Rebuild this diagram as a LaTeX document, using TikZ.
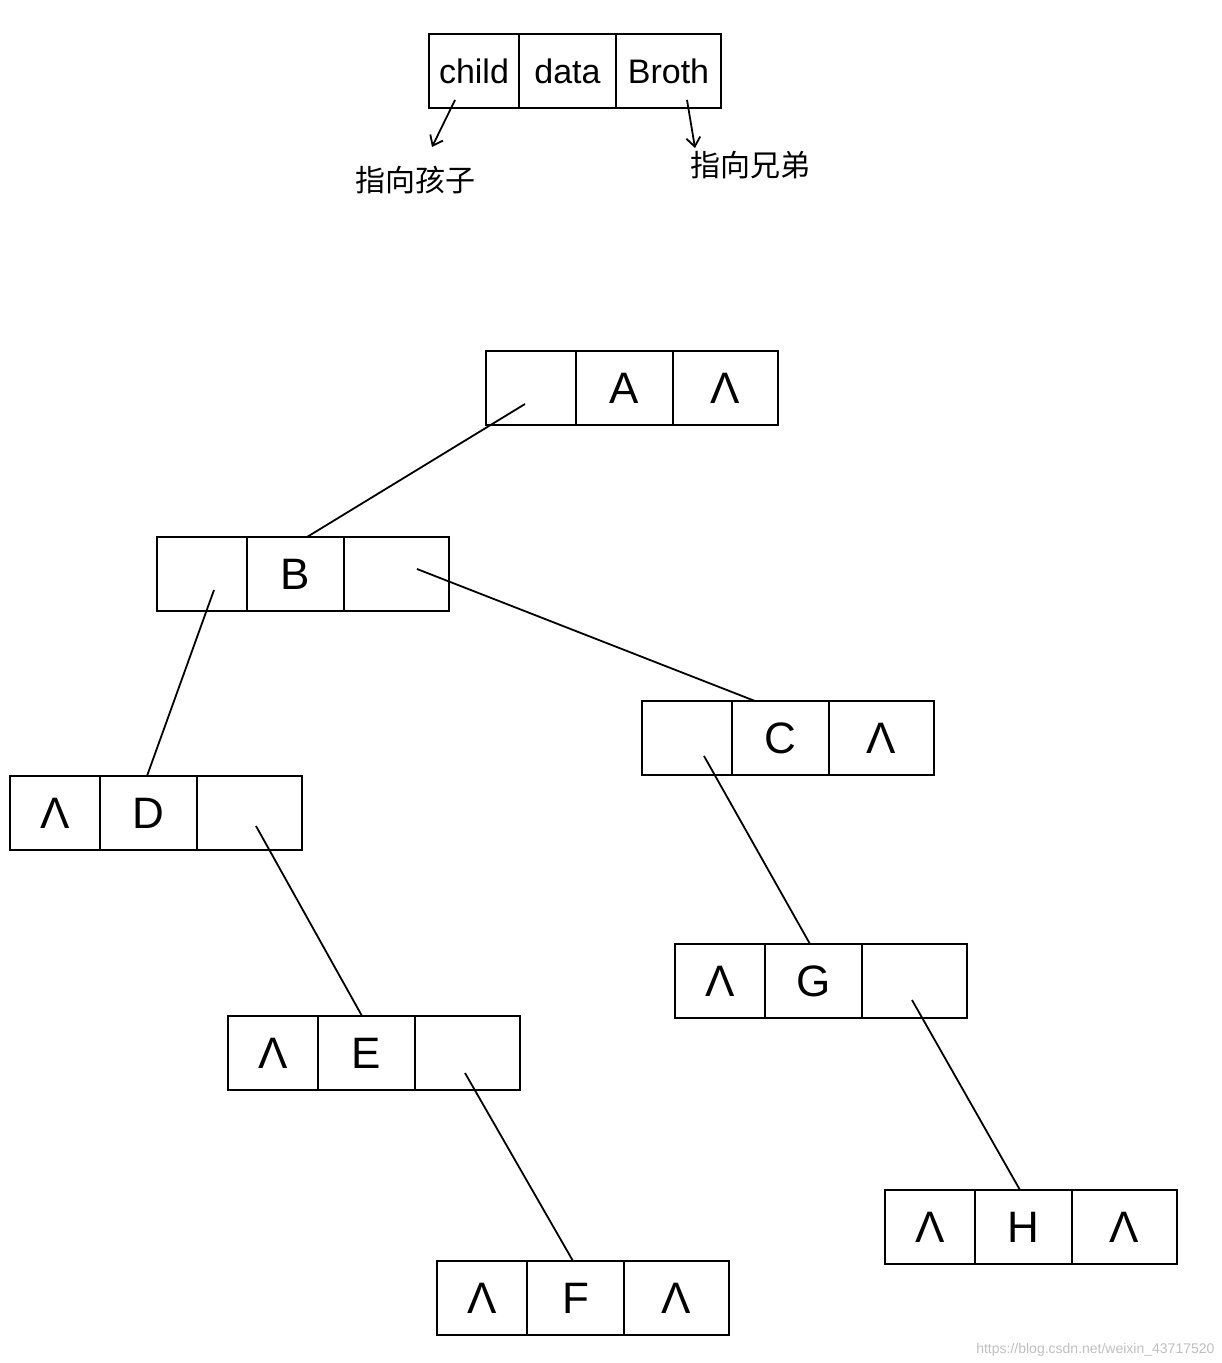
\documentclass[tikz,border=0pt]{standalone}
\usepackage{fontspec}
\usetikzlibrary{arrows.meta}
\setmainfont{Liberation Sans}
\newfontfamily\cjk{Noto Sans CJK SC}
\begin{document}
\begin{tikzpicture}[x=1pt,y=-1pt,
  cell/.style={draw,line width=1.5pt,minimum height=74pt,inner sep=0pt,outer sep=0pt,anchor=west,font=\fontsize{44}{44}\selectfont},
  lnk/.style={line width=1.8pt},
  hd/.style={font=\fontsize{34}{34}\selectfont}]
\useasboundingbox (0,0) rectangle (1222,1363);
\newcommand\rec[6]{%
  \node[cell,minimum width=90pt] (#1a) at (#2,#3) {#4};
  \node[cell,minimum width=97pt] (#1b) at (#2+90,#3) {#5};
  \node[cell,minimum width=105pt] (#1c) at (#2+187,#3) {#6};}
\def\N{Λ}
\node[cell,minimum width=90pt,hd] (Ha) at (429,71) {child};
\node[cell,minimum width=97pt,hd] (Hb) at (519,71) {data};
\node[cell,minimum width=105pt,hd] (Hc) at (616,71) {Broth};
\rec{A}{486}{388}{}{A}{\N}
\rec{B}{157}{574}{}{B}{}
\rec{C}{642}{738}{}{C}{\N}
\rec{D}{10}{813}{\N}{D}{}
\rec{E}{228}{1053}{\N}{E}{}
\rec{G}{675}{981}{\N}{G}{}
\rec{F}{437}{1298}{\N}{F}{\N}
\rec{H}{885}{1227}{\N}{H}{\N}
\node[font=\cjk\fontsize{30}{30}\selectfont] (l1) at (415,180) {指向孩子};
\node[font=\cjk\fontsize{30}{30}\selectfont] (l2) at (750,165) {指向兄弟};
\node[anchor=south east,text=gray!50,font=\fontsize{14}{14}\selectfont] (wm) at (1218,1360) {https://blog.csdn.net/weixin\_43717520};
\coordinate (h1) at (455,100); \coordinate (h1e) at (432,147);
\coordinate (h2) at (687,100); \coordinate (h2e) at (695,148);
\draw[lnk,-{Straight Barb[length=9pt,width=14pt]}] (h1) -- (h1e);
\draw[lnk,-{Straight Barb[length=9pt,width=14pt]}] (h2) -- (h2e);
\coordinate (sA) at (525,404); \coordinate (tB) at (307,537);
\coordinate (sB1) at (214,590); \coordinate (tD) at (147,776);
\coordinate (sB2) at (417,569); \coordinate (tC) at (755,701);
\coordinate (sD) at (256,826); \coordinate (tE) at (362,1016);
\coordinate (sC) at (704,756); \coordinate (tG) at (810,944);
\coordinate (sG) at (912,1000); \coordinate (tH) at (1020,1190);
\coordinate (sE) at (465,1073); \coordinate (tF) at (573,1261);
\draw[lnk] (sA) -- (tB);
\draw[lnk] (sB1) -- (tD);
\draw[lnk] (sB2) -- (tC);
\draw[lnk] (sD) -- (tE);
\draw[lnk] (sC) -- (tG);
\draw[lnk] (sG) -- (tH);
\draw[lnk] (sE) -- (tF);
\end{tikzpicture}
\end{document}
